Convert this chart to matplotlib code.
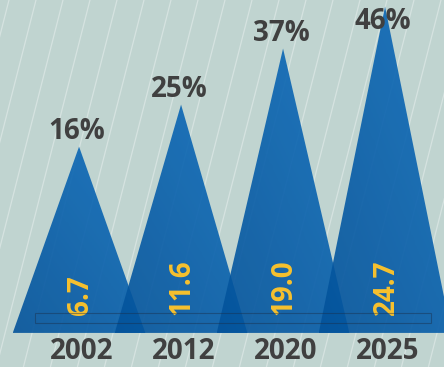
import numpy as np
import matplotlib
matplotlib.use("Agg")
from matplotlib import pyplot as plt
from matplotlib.patches import Polygon, Rectangle
from matplotlib.colors import LinearSegmentedColormap

# datos del grafico
anios = ["2002", "2012", "2020", "2025"]
porcentajes = [16, 25, 37, 46]
valores = [6.7, 11.6, 19.0, 24.7]

fondo = "#c0d4d0"
gris = "#404040"
amarillo = "#f7c12e"
fuente = "Open Sans"

degradado = LinearSegmentedColormap.from_list("azules", ["#03529a", "#0c6cbc"])

fig = plt.figure(figsize=(4.44, 3.67), dpi=100)
fig.patch.set_facecolor(fondo)

# lineas diagonales del fondo (en pixeles)
ax_bg = fig.add_axes([0, 0, 1, 1])
ax_bg.set_xlim(0, 444)
ax_bg.set_ylim(367, 0)
ax_bg.axis("off")
ax_bg.set_facecolor(fondo)
for x0 in np.arange(-120, 460, 27):
    ax_bg.plot([x0, x0 + 0.255 * 400], [400, 0], color="white", lw=0.9, alpha=0.35)

ax = fig.add_axes([0, 0, 1, 1])
ax.patch.set_alpha(0)
ax.axis("off")

base = -23.9
medio = 0.65
tope = 41.2

# gradiente diagonal: oscuro abajo a la izquierda, claro arriba a la derecha
gx, gy = np.meshgrid(np.linspace(0, 1, 64), np.linspace(0, 1, 64))
grad = 0.5 * gx + 0.5 * gy

for i, (p, v, a) in enumerate(zip(porcentajes, valores, anios)):
    tri = Polygon([[i - medio, base], [i, p], [i + medio, base]],
                  closed=True, facecolor="none", edgecolor="none")
    ax.add_patch(tri)
    im = ax.imshow(grad, extent=[i - medio, i + medio, base, p], origin="lower",
                   cmap=degradado, alpha=0.9, aspect="auto", zorder=2)
    im.set_clip_path(tri)
    ax.text(i - 0.02, min(p + 1.7, tope), f"{p}%", ha="center", va="baseline",
            fontsize=20, fontweight="bold", color=gris, family=fuente, zorder=3)
    ax.text(i + 0.03, 0.002, a, ha="center", va="bottom",
            fontsize=20, fontweight="bold", color=gris, family=fuente,
            transform=ax.get_xaxis_transform(), zorder=3)
    ax.text(i + 0.01, 0.143, f"{v:.1f}", ha="center", va="bottom", rotation=90,
            fontsize=20, fontweight="bold", color=amarillo, family=fuente,
            transform=ax.get_xaxis_transform(), zorder=3)

# marco del piso
ax.add_patch(Rectangle((35 / 444, 44 / 367), 396 / 444, 10 / 367,
                       transform=ax.transAxes, fill=False,
                       edgecolor="#1a2f4a", lw=0.8, alpha=0.45, zorder=3))

ax.set_xlim(-0.775, 3.578)
ax.set_ylim(-31.2, 47.4)

plt.savefig("out.png", dpi=100, facecolor=fondo)
